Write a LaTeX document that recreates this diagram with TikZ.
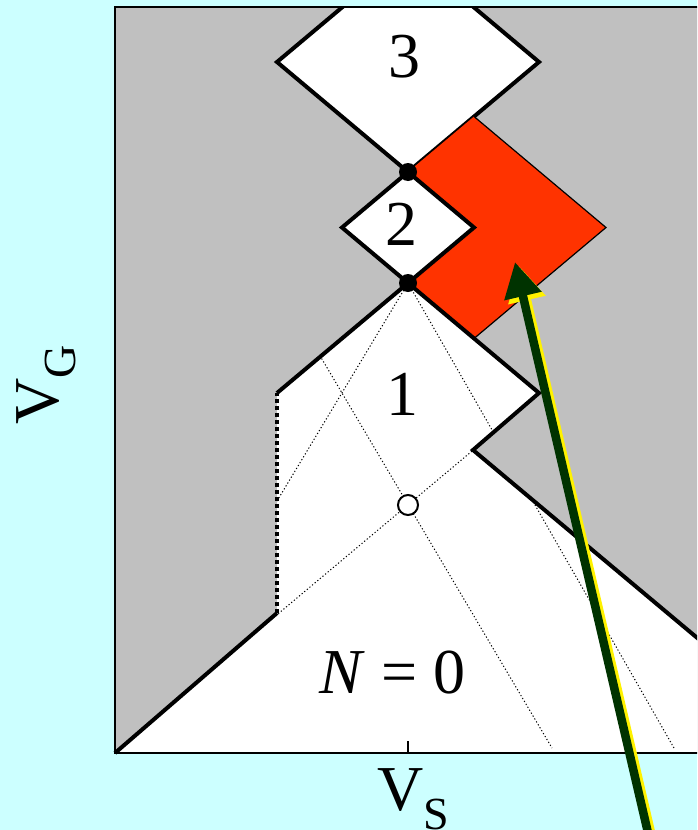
\documentclass[tikz,border=0pt]{standalone}
\usepackage{fontspec}
\setmainfont{Liberation Serif}
\usetikzlibrary{arrows.meta}

\definecolor{bgcyan}{HTML}{CCFFFF}
\definecolor{blockgray}{HTML}{C0C0C0}
\definecolor{redzone}{HTML}{FF3300}
\definecolor{arrowgreen}{HTML}{003300}

\begin{document}
\begin{tikzpicture}[
    x=0.5pt, y=-0.5pt,
    edge/.style={line width=2pt, line join=miter},
    thinedge/.style={line width=0.6pt},
    guide/.style={line width=0.5pt, dash pattern=on 0.6pt off 1.1pt},
    bigtext/.style={font=\fontsize{32}{38}\selectfont, inner sep=0pt},
    subtext/.style={font=\fontsize{23}{27}\selectfont},
    pointer/.style={line width=4.25pt, -{Triangle[length=17.5pt,width=18pt]}}
]
\useasboundingbox (0,0) rectangle (697,830);
\clip (0,0) rectangle (697,830);

% Background and blocked region
\fill[bgcyan] (0,0) rectangle (697,830);
\fill[blockgray] (115,7) rectangle (720,753);

% Charge degeneracy points
\coordinate (dothigh) at (408,172);
\coordinate (dotlow) at (408,283);
\coordinate (cross) at (408,505);

% Diamond 3 (cut by the frame)
\begin{scope}
  \clip (115,7) rectangle (720,753);
  \fill[white] (408,-48) -- (539,62) -- (dothigh) -- (277,62) -- cycle;
  \draw[edge] (408,-48) -- (539,62) -- (dothigh) -- (277,62) -- cycle;
\end{scope}

% Red region
\fill[redzone] (dothigh) -- (474,116.5) -- (606,227.5) -- (474,338.5) -- (dotlow) -- (474,227.5) -- cycle;
\draw[thinedge] (474,116.5) -- (606,227.5) -- (474,338.5);

% Diamond 2
\filldraw[edge, fill=white] (dothigh) -- (474,227.5) -- (dotlow) -- (342,227.5) -- cycle;

% Diamond 1 and N = 0 region
\fill[white] (dotlow) -- (539,393) -- (473,450) -- (720,657) -- (720,753) -- (115,753) -- (277,613) -- (277,393) -- cycle;

% Guide lines, only inside the white region
\begin{scope}
  \clip (dotlow) -- (539,393) -- (473,450) -- (720,657) -- (720,753) -- (115,753) -- (277,613) -- (277,393) -- cycle;
  \draw[guide] (277,501) -- (dotlow) -- (674,748);
  \draw[guide] (287,300) -- (552,748);
  \draw[guide] (260,629) -- (490,436);
\end{scope}

% Region edges
\draw[edge] (115,753) -- (277,613);
\draw[edge, dash pattern=on 2pt off 1.5pt] (277,613) -- (277,393);
\draw[edge] (277,393) -- (dotlow) -- (539,393) -- (473,450) -- (720,657);

% Frame and tick
\draw[thinedge] (720,7) -- (115,7) -- (115,753) -- (720,753);
\draw[thinedge] (408,741) -- (408,753);

% Points
\fill (dothigh) circle[radius=4.5pt];
\fill (dotlow) circle[radius=4.5pt];
\filldraw[fill=white, line width=1pt] (cross) circle[radius=5pt];

% Labels
\node[bigtext, anchor=base] (nthree) at (404.5,77) {3};
\node[bigtext, anchor=base] (ntwo) at (401,245) {2};
\node[bigtext, anchor=base] (none) at (402,415) {1};
\node[bigtext, anchor=base west] (nzero) at (319,693) {\textit{N} = 0};
\node[bigtext, anchor=base west, rotate=90] (vgate) at (58,425) {V\raisebox{-8.5pt}{\fontsize{23}{27}\selectfont G}};
\node[bigtext, anchor=base west] (vsource) at (377,810) {V\raisebox{-9.5pt}{\fontsize{23}{27}\selectfont S}};

% Arrow into the red region
\coordinate (arrowtail) at (652,850);
\coordinate (arrowtip) at (515,262);
\draw[pointer, yellow] ([shift={(4,4)}]arrowtail) -- ([shift={(4,4)}]arrowtip);
\draw[pointer, arrowgreen] (arrowtail) -- (arrowtip);

\end{tikzpicture}
\end{document}
